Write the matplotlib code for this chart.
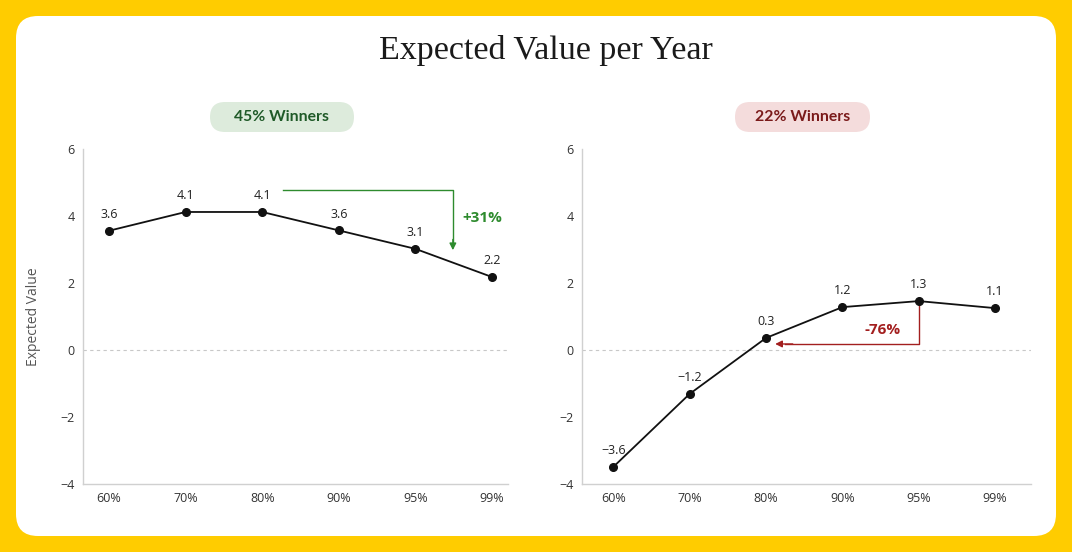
import matplotlib.pyplot as plt
from matplotlib.patches import FancyBboxPatch

# data
thresholds = ['60%', '70%', '80%', '90%', '95%', '99%']
ev_45 = [3.56, 4.12, 4.12, 3.57, 3.02, 2.18]
labels_45 = ['3.6', '4.1', '4.1', '3.6', '3.1', '2.2']
ev_22 = [-3.49, -1.31, 0.36, 1.28, 1.46, 1.25]
labels_22 = ['\u22123.6', '\u22121.2', '0.3', '1.2', '1.3', '1.1']

YELLOW = '#FFCC00'
GREEN = '#2E8B2E'
RED = '#A31F1F'
W, H = 1072, 552

plt.rcParams['font.family'] = ['Open Sans', 'DejaVu Sans']

fig = plt.figure(figsize=(W / 100, H / 100), dpi=100)
fig.patch.set_facecolor(YELLOW)


def rounded_box(x0, y0, x1, y1, r, color):
    # pixel coords, y from top
    p = FancyBboxPatch((x0 / W, 1 - y1 / H), (x1 - x0) / W, (y1 - y0) / H,
                       boxstyle='round,pad=0,rounding_size=%f' % (r / W),
                       transform=fig.transFigure, facecolor=color,
                       edgecolor='none', zorder=-1, mutation_aspect=W / H)
    fig.patches.append(p)


# white card
rounded_box(16, 16, 1056, 536, 22, 'white')

fig.text(546 / W, 1 - 50 / H, 'Expected Value per Year', ha='center', va='center',
         fontsize=24.5, family='Liberation Serif', color='#1a1a1a')

ax1 = fig.add_axes([83 / W, 1 - 484 / H, 425 / W, 335 / H])
ax2 = fig.add_axes([582 / W, 1 - 484 / H, 449 / W, 335 / H])


def draw_panel(ax, values, labels, xlim):
    x = list(range(len(thresholds)))
    ax.set_facecolor('none')
    ax.axhline(0, color='#c8c8c8', lw=0.8, ls=(0, (3, 3)), zorder=1)
    ax.plot(x, values, color='#111111', lw=1.3, marker='o', markersize=5.5, zorder=3)
    for xi, v, lab in zip(x, values, labels):
        ax.annotate(lab, (xi, v), xytext=(0, 7), textcoords='offset points',
                    ha='center', va='bottom', fontsize=9, color='#222222')
    ax.set_xticks(x)
    ax.set_xticklabels(thresholds)
    ax.set_yticks([-4, -2, 0, 2, 4, 6])
    ax.set_ylim(-4, 6)
    ax.set_xlim(*xlim)
    for s in ['top', 'right']:
        ax.spines[s].set_visible(False)
    for s in ['left', 'bottom']:
        ax.spines[s].set_color('#d0d0d0')
        ax.spines[s].set_linewidth(1.0)
    ax.tick_params(length=0, labelsize=9, colors='#333333', pad=6)


draw_panel(ax1, ev_45, labels_45, (-0.34, 5.21))
draw_panel(ax2, ev_22, labels_22, (-0.41, 5.47))

ax1.set_ylabel('Expected Value', fontsize=10, color='#555555', labelpad=14)

# left annotation: 80% -> 99%
ax1.plot([2.27, 4.49, 4.49], [4.78, 4.78, 3.2], color=GREEN, lw=1.0, zorder=2)
ax1.annotate('', xy=(4.49, 2.98), xytext=(4.49, 3.3),
             arrowprops=dict(arrowstyle='-|>', color=GREEN, lw=1.0,
                             mutation_scale=10, shrinkA=0, shrinkB=0))
ax1.text(4.88, 3.94, '+31%', color=GREEN, fontsize=11, fontweight='bold',
         ha='center', va='center')

# right annotation: 95% -> 80%
ax2.plot([4.0, 4.0, 2.25], [ev_22[4], 0.18, 0.18], color=RED, lw=1.0, zorder=2)
ax2.annotate('', xy=(2.12, 0.18), xytext=(2.35, 0.18),
             arrowprops=dict(arrowstyle='-|>', color=RED, lw=1.0,
                             mutation_scale=10, shrinkA=0, shrinkB=0))
ax2.text(3.53, 0.6, '-76%', color=RED, fontsize=11, fontweight='bold',
         ha='center', va='center')

# pill badges
rounded_box(210, 102, 354, 132, 15, '#DDEBDC')
rounded_box(735, 102, 870, 132, 15, '#F4DCDC')
fig.text(282 / W, 1 - 117 / H, '45% Winners', ha='center', va='center',
         fontsize=11.3, family='Lato', fontweight='bold', color='#1F5A28')
fig.text(803 / W, 1 - 117 / H, '22% Winners', ha='center', va='center',
         fontsize=11.3, family='Lato', fontweight='bold', color='#7A1A1A')

fig.savefig('out.png', dpi=100, facecolor=YELLOW)
